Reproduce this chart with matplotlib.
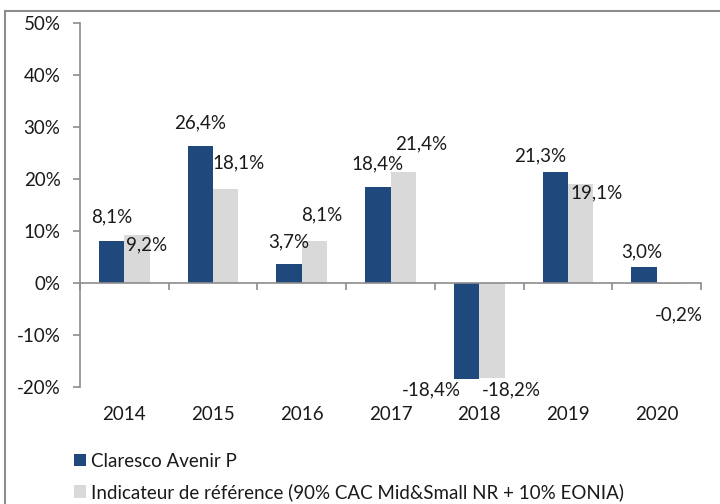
import matplotlib
matplotlib.use("Agg")
import matplotlib.pyplot as plt
from matplotlib.patches import Patch, Rectangle
import numpy as np

plt.rcParams['font.family'] = ['Lato', 'DejaVu Sans']

years = ["2014", "2015", "2016", "2017", "2018", "2019", "2020"]
fund = [8.1, 26.4, 3.7, 18.4, -18.4, 21.3, 3.0]
bench = [9.2, 18.1, 8.1, 21.4, -18.2, 19.1, -0.2]
fund_name = "Claresco Avenir P"
bench_name = "Indicateur de référence (90% CAC Mid&Small NR + 10% EONIA)"
yticks = [-20, -10, 0, 10, 20, 30, 40, 50]

# label offsets (pixels) relative to bar end
fund_off = [(0, 24), (0, 23), (0, 22), (0, 23.5), (-35, -11), (-15.5, 16), (-2.5, 16)]
bench_off = [(9.5, -10), (12.5, 26.5), (7.5, 26), (18, 28), (19, -12.5), (16, -9.5), (9.5, -31)]

BLUE = "#1F497D"
GRAY = "#D9D9D9"
AX = "#8C8C8C"
TXT = "#1a1a1a"
FS = 13.5

W, H = 720, 504
fig = plt.figure(figsize=(W / 100, H / 100), dpi=100)
ax = fig.add_axes([80 / W, 1 - 387 / H, (701 - 80) / W, (387 - 23) / H])

x = np.arange(len(years))
bw = 0.2865
ax.bar(x - bw / 2, fund, bw, color=BLUE, zorder=2)
ax.bar(x + bw / 2, bench, bw, color=GRAY, zorder=2)

def fmt(v):
    return f"{v:.1f}%".replace('.', ',')

for i, (v, off) in enumerate(zip(fund, fund_off)):
    ax.annotate(fmt(v), xy=(x[i] - bw / 2, v), xytext=off, textcoords='offset pixels',
                ha='center', va='center', fontsize=FS, color=TXT)
for i, (v, off) in enumerate(zip(bench, bench_off)):
    ax.annotate(fmt(v), xy=(x[i] + bw / 2, v), xytext=off, textcoords='offset pixels',
                ha='center', va='center', fontsize=FS, color=TXT)

ax.set_xlim(-0.5, len(years) - 0.5)
ax.set_ylim(-20, 50)
ax.set_yticks(yticks)
ax.set_yticklabels([f"{t}%" for t in yticks])
ax.tick_params(axis='y', direction='out', length=5, width=1.2, color=AX, pad=9,
               labelsize=FS, labelcolor=TXT)
ax.set_xticks(np.arange(-0.5, len(years), 1.0))
ax.set_xticklabels([])
ax.tick_params(axis='x', direction='out', length=5, width=1.2, color=AX)

for s in ['top', 'right']:
    ax.spines[s].set_visible(False)
ax.spines['left'].set_color(AX)
ax.spines['left'].set_linewidth(1.2)
ax.spines['bottom'].set_position(('data', 0))
ax.spines['bottom'].set_color(AX)
ax.spines['bottom'].set_linewidth(1.2)

for i, yr in enumerate(years):
    ax.annotate(yr, xy=(x[i], 0), xycoords=('data', 'axes fraction'), xytext=(0, -28),
                textcoords='offset pixels', ha='center', va='center', fontsize=FS, color=TXT)

handles = [Patch(facecolor=BLUE, edgecolor='none', label=fund_name),
           Patch(facecolor=GRAY, edgecolor='none', label=bench_name)]
fig.legend(handles=handles, loc='upper left', bbox_to_anchor=(74 / W, 1 - 453 / H),
           frameon=False, fontsize=FS, handlelength=0.62, handleheight=0.62,
           handletextpad=0.3, labelspacing=0.7, borderaxespad=0, borderpad=0,
           labelcolor=TXT)

fig.add_artist(Rectangle((5 / W, -0.05), 1.2, 1 - 11 / H + 0.05, transform=fig.transFigure,
                         fill=False, edgecolor=AX, linewidth=1.5))

fig.savefig("out.png", dpi=100)
